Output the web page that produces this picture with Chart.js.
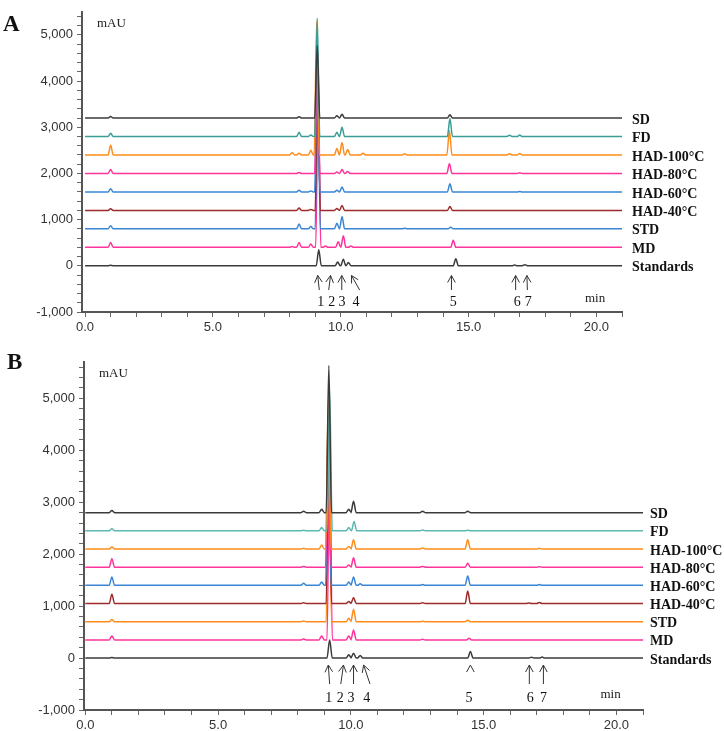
<!DOCTYPE html>
<html>
<head>
<meta charset="utf-8">
<script src="https://cdn.jsdelivr.net/npm/chart.js@4/dist/chart.umd.min.js"></script>
<style>
  body { margin: 0; background: #fff; }
  .panel { position: absolute; left: 0; width: 724px; }
</style>
</head>
<body>
<div class="panel" style="top:0;height:335px"><canvas id="chartA" width="724" height="335"></canvas></div>
<div class="panel" style="top:335px;height:396px"><canvas id="chartB" width="724" height="396"></canvas></div>
<script>
// sample names, top trace first
var names = ['SD', 'FD', 'HAD-100\u00b0C', 'HAD-80\u00b0C', 'HAD-60\u00b0C', 'HAD-40\u00b0C', 'STD', 'MD', 'Standards'];

// trace offsets (mAU)
var baseA = [3200, 2800, 2400, 2000, 1600, 1200, 800, 400, 0];
var baseB = [2800, 2450, 2100, 1750, 1400, 1050, 700, 350, 0];

var colorsA = ['#3b3b3b', '#3a9e96', '#ff8c1a', '#ff3399', '#3a86d4', '#9e2b2b', '#3a86d4', '#ff3399', '#3b3b3b'];
var colorsB = ['#3b3b3b', '#5cb8b0', '#ff8c1a', '#ff3399', '#3a86d4', '#9e2b2b', '#ff8c1a', '#ff3399', '#3b3b3b'];

// peaks [retention time (min), height above trace baseline (mAU)]
var peaksA = [
  [[1.0, 35], [8.37, 30], [9.08, 1570], [9.85, 50], [10.05, 80], [14.27, 70]],
  [[1.0, 70], [8.37, 90], [8.83, 35], [9.08, 2560], [9.85, 90], [10.05, 200], [14.27, 390], [16.6, 25], [17.0, 30]],
  [[1.0, 210], [8.1, 55], [8.37, 35], [8.83, 100], [9.06, 2900], [9.85, 140], [10.05, 270], [10.27, 120], [10.87, 35], [12.5, 25], [14.25, 530], [16.6, 25], [17.0, 30]],
  [[1.0, 85], [8.37, 20], [9.08, 2700], [9.85, 30], [10.05, 85], [10.27, 40], [14.25, 210], [17.0, 15]],
  [[1.0, 70], [8.37, 35], [8.83, 20], [9.08, 3000], [9.85, 35], [10.05, 105], [14.27, 175], [17.0, 10]],
  [[1.0, 35], [8.37, 50], [8.83, 20], [9.1, 3300], [9.85, 40], [10.05, 105], [14.27, 85]],
  [[1.0, 70], [8.37, 105], [8.83, 50], [9.1, 3600], [9.85, 120], [10.05, 270], [12.5, 15], [14.3, 35]],
  [[1.0, 105], [8.1, 20], [8.37, 105], [8.83, 70], [9.12, 3500], [9.4, 30], [9.9, 120], [10.1, 250], [10.4, 30], [14.4, 155]],
  [[1.0, 10], [9.14, 350], [9.88, 85], [10.1, 140], [10.3, 70], [14.5, 155], [16.8, 20], [17.2, 25]]
];
var peaksB = [
  [[1.0, 40], [8.22, 25], [8.9, 65], [9.17, 2835], [9.92, 65], [10.1, 220], [12.7, 25], [14.4, 25]],
  [[1.0, 40], [8.22, 10], [8.9, 65], [9.2, 2700], [9.92, 65], [10.12, 180], [12.7, 15], [14.4, 10]],
  [[1.0, 40], [8.22, 15], [8.9, 75], [9.15, 2900], [9.92, 50], [10.1, 180], [12.7, 20], [14.4, 180], [17.1, 15]],
  [[1.0, 160], [8.22, 15], [9.15, 3100], [9.92, 40], [10.1, 180], [12.7, 15], [14.4, 75], [17.1, 10]],
  [[1.0, 160], [8.22, 40], [8.9, 65], [9.15, 3300], [9.92, 65], [10.1, 160], [10.35, 30], [12.7, 15], [14.4, 180], [17.1, 15]],
  [[1.0, 180], [8.22, 15], [9.17, 3500], [9.92, 40], [10.1, 115], [12.7, 15], [14.4, 240], [16.7, 10], [17.1, 20]],
  [[1.0, 40], [8.22, 15], [9.17, 3600], [9.92, 65], [10.1, 240], [12.7, 10], [14.4, 30]],
  [[1.0, 75], [8.22, 15], [8.9, 75], [9.2, 3700], [9.92, 75], [10.1, 190], [12.7, 10], [14.45, 30]],
  [[1.0, 10], [9.2, 350], [9.92, 65], [10.1, 95], [10.35, 50], [14.5, 125], [16.8, 15], [17.2, 20]]
];

// compound arrows: [tail time, head time, label time]; tail null = caret only
var arrowsA = [[9.16, 9.1, 9.22], [9.53, 9.6, 9.65], [10.04, 10.04, 10.05], [10.74, 10.42, 10.6], [14.33, 14.33, 14.4], [16.84, 16.84, 16.9], [17.3, 17.28, 17.33]];
var arrowsB = [[9.2, 9.15, 9.17], [9.62, 9.72, 9.6], [10.1, 10.1, 10.0], [10.72, 10.48, 10.6], [null, 14.5, 14.45], [16.72, 16.72, 16.75], [17.25, 17.25, 17.25]];

var yTicks = { step: 200, major: 1000 };
var xTicks = { step: 1, major: 5 };

function buildSets(peaks, base, colors) {
  var halfW = 0.1;
  return peaks.map(function (pk, i) {
    var pts = [{ x: 0, y: base[i] }];
    pk.forEach(function (p) {
      pts.push({ x: p[0] - halfW, y: base[i] });
      pts.push({ x: p[0], y: base[i] + p[1] });
      pts.push({ x: p[0] + halfW, y: base[i] });
    });
    pts.push({ x: 21, y: base[i] });
    return {
      label: names[i],
      data: pts,
      borderColor: colors[i],
      borderWidth: 1.5,
      pointRadius: 0,
      cubicInterpolationMode: 'monotone',
      fill: false
    };
  });
}

var decor = {
  id: 'decor',
  afterDraw: function (chart, args, o) {
    var ctx = chart.ctx, xs = chart.scales.x, ys = chart.scales.y, ca = chart.chartArea;
    ctx.save();
    // panel letter
    ctx.fillStyle = '#111';
    ctx.font = 'bold 23px "Liberation Serif", serif';
    ctx.textAlign = 'left';
    ctx.textBaseline = 'middle';
    ctx.fillText(o.letter, o.letterX, o.letterY);
    // unit labels
    ctx.font = '13px "Liberation Serif", serif';
    ctx.fillStyle = '#222';
    ctx.fillText('mAU', ca.left + 15, ca.top + 12);
    ctx.fillText('min', xs.getPixelForValue(o.minAt[0]), ys.getPixelForValue(o.minAt[1]));
    // trace names
    ctx.font = 'bold 14px "Liberation Serif", serif';
    ctx.fillStyle = '#111';
    o.base.forEach(function (b, i) {
      ctx.fillText(names[i], ca.right + o.nameGap, ys.getPixelForValue(b) + 2);
    });
    // arrows and compound numbers
    ctx.strokeStyle = '#333';
    ctx.lineWidth = 1;
    ctx.font = '14px "Liberation Serif", serif';
    ctx.textAlign = 'center';
    var hy = ys.getPixelForValue(o.headY), ty = ys.getPixelForValue(o.tailY), ny = ys.getPixelForValue(o.numY);
    o.arrows.forEach(function (a, k) {
      var hx = xs.getPixelForValue(a[1]);
      var tx = a[0] === null ? hx : xs.getPixelForValue(a[0]);
      var tyy = a[0] === null ? hy + 8 : ty;
      var ang = Math.atan2(hy - tyy, hx - tx);
      ctx.beginPath();
      if (a[0] !== null) { ctx.moveTo(tx, tyy); ctx.lineTo(hx, hy); }
      [0.5, -0.5].forEach(function (d) {
        ctx.moveTo(hx, hy);
        ctx.lineTo(hx - 8 * Math.cos(ang + d), hy - 8 * Math.sin(ang + d));
      });
      ctx.stroke();
      ctx.fillText(String(k + 1), xs.getPixelForValue(a[2]), ny);
    });
    ctx.restore();
  }
};

function makeChart(id, peaks, base, colors, cfg) {
  new Chart(document.getElementById(id), {
    type: 'line',
    data: { datasets: buildSets(peaks, base, colors) },
    options: {
      responsive: false,
      devicePixelRatio: 1,
      animation: false,
      layout: { padding: { left: 0, right: cfg.padRight, top: cfg.padTop, bottom: 0 } },
      plugins: {
        legend: { display: false },
        tooltip: { enabled: false },
        decor: {
          letter: cfg.letter, letterX: cfg.letterX, letterY: cfg.letterY,
          base: base, arrows: cfg.arrows, headY: cfg.headY, tailY: cfg.tailY, numY: cfg.numY,
          minAt: cfg.minAt, nameGap: cfg.nameGap
        }
      },
      scales: {
        x: {
          type: 'linear',
          min: cfg.xMin, max: cfg.xMax,
          afterFit: function (s) { s.height = cfg.xHeight; },
          border: { display: true, color: '#555', width: 2 },
          grid: { drawOnChartArea: false, tickLength: 5, color: '#666' },
          ticks: {
            stepSize: xTicks.step, autoSkip: false, includeBounds: false, maxRotation: 0, padding: 3,
            color: '#333', font: { family: '"Liberation Sans", Arial', size: 13 },
            callback: function (v) { return v % xTicks.major === 0 ? v.toFixed(1) : ''; }
          }
        },
        y: {
          min: -1000, max: cfg.yMax,
          afterFit: function (s) { s.width = cfg.yWidth; },
          border: { display: true, color: '#555', width: 2 },
          grid: { drawOnChartArea: false, tickLength: 5, color: '#666' },
          ticks: {
            stepSize: yTicks.step, autoSkip: false, includeBounds: false, padding: 4,
            color: '#333', font: { family: '"Liberation Sans", Arial', size: 13 },
            callback: function (v) { return v % yTicks.major === 0 ? v.toLocaleString('en-US') : ''; }
          }
        }
      }
    },
    plugins: [decor]
  });
}

makeChart('chartA', peaksA, baseA, colorsA, {
  letter: 'A', letterX: 3, letterY: 25, padRight: 102, padTop: 3, xHeight: 23, yWidth: 82,
  xMin: -0.12, xMax: 21.0, yMax: 5500,
  arrows: arrowsA, headY: -210, tailY: -525, numY: -800, minAt: [19.55, -715], nameGap: 10
});
makeChart('chartB', peaksB, baseB, colorsB, {
  letter: 'B', letterX: 7, letterY: 28, padRight: 81, padTop: 27, xHeight: 21, yWidth: 84,
  xMin: -0.05, xMax: 21.0, yMax: 5700,
  arrows: arrowsB, headY: -135, tailY: -500, numY: -770, minAt: [19.4, -710], nameGap: 7
});
</script>
</body>
</html>
